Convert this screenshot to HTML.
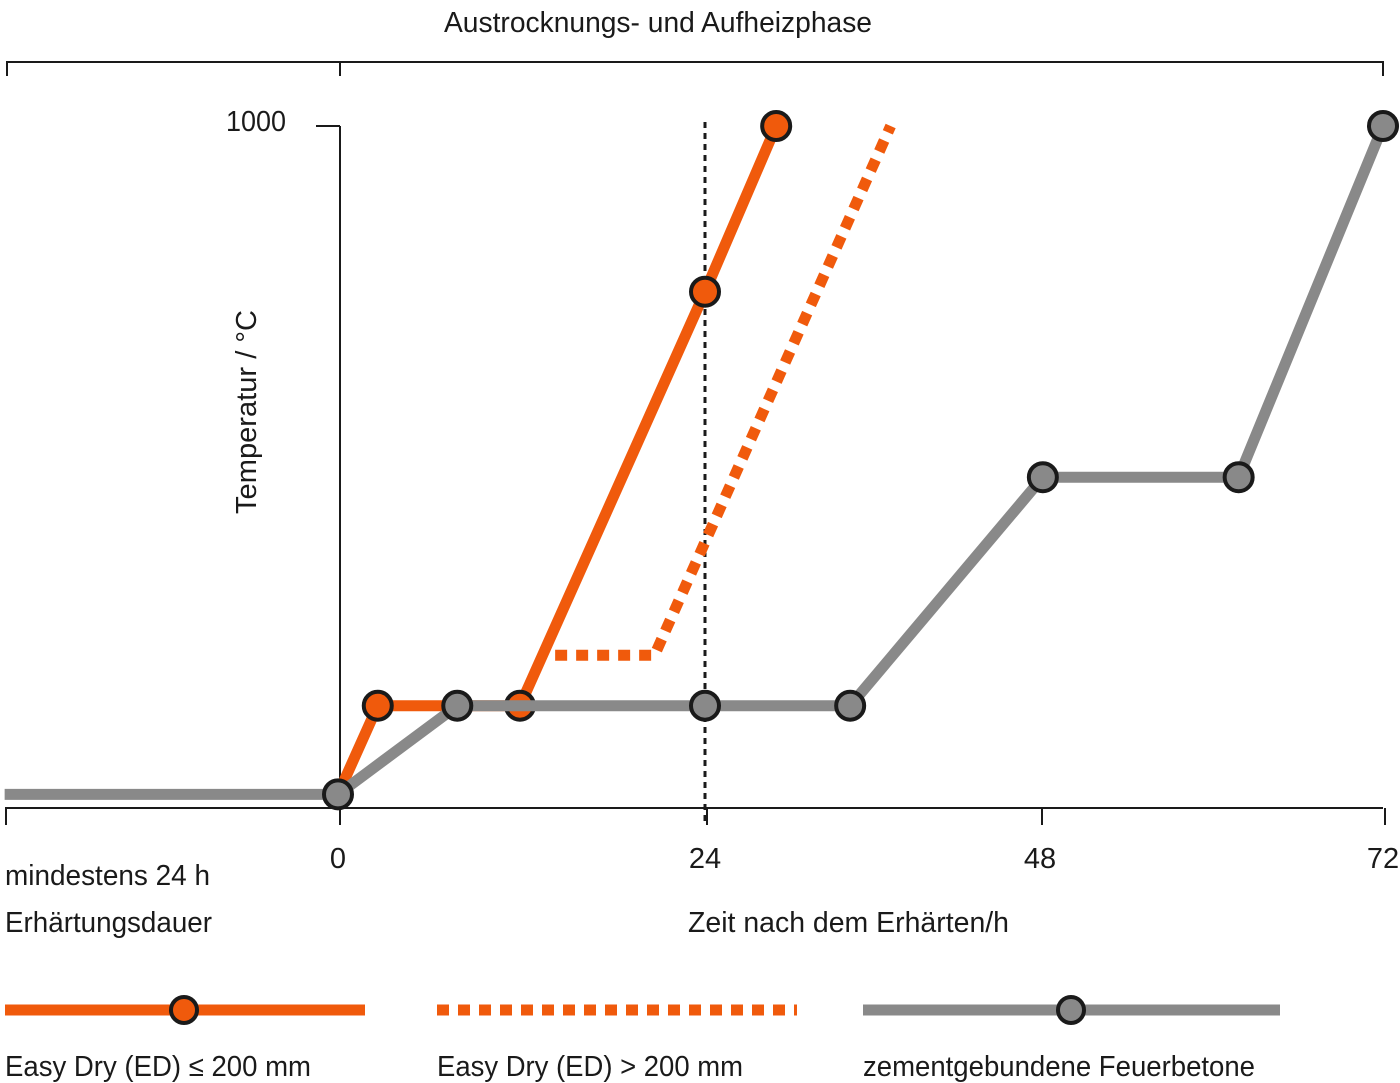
<!DOCTYPE html>
<html><head><meta charset="utf-8"><style>
html,body{margin:0;padding:0;background:#fff;}
svg{display:block;}
text{font-family:"Liberation Sans",sans-serif;fill:#1a1a1a;}
</style></head><body>
<svg id="chart" width="1400" height="1083" viewBox="0 0 1400 1083">
<g>
<line x1="7" y1="62" x2="1383" y2="62" stroke="#1a1a1a" stroke-width="2"/>
<line x1="7" y1="61" x2="7" y2="76" stroke="#1a1a1a" stroke-width="2"/>
<line x1="340" y1="61" x2="340" y2="76" stroke="#1a1a1a" stroke-width="2"/>
<line x1="1383" y1="61" x2="1383" y2="76" stroke="#1a1a1a" stroke-width="2"/>
<text x="658" y="32" font-size="29" text-anchor="middle" textLength="428" lengthAdjust="spacingAndGlyphs">Austrocknungs- und Aufheizphase</text>
</g>
<g>
<line x1="340" y1="126" x2="340" y2="808" stroke="#1a1a1a" stroke-width="2"/>
<line x1="316" y1="126" x2="340" y2="126" stroke="#1a1a1a" stroke-width="2"/>
<text x="286" y="131" font-size="29" text-anchor="end" textLength="60" lengthAdjust="spacingAndGlyphs">1000</text>
<text transform="translate(256,412) rotate(-90)" font-size="29" text-anchor="middle" textLength="204" lengthAdjust="spacingAndGlyphs">Temperatur  / °C</text>
</g>
<g id="xaxis">
<line x1="5" y1="808" x2="1383" y2="808" stroke="#1a1a1a" stroke-width="2"/>
<line x1="6" y1="808" x2="6" y2="825" stroke="#1a1a1a" stroke-width="2"/>
</g>
<text x="5" y="885" font-size="29" textLength="205" lengthAdjust="spacingAndGlyphs">mindestens 24 h</text>
<text x="5" y="932" font-size="29" textLength="207" lengthAdjust="spacingAndGlyphs">Erhärtungsdauer</text>
<text x="688" y="932" font-size="29" textLength="321" lengthAdjust="spacingAndGlyphs">Zeit nach dem Erhärten/h</text>
<line x1="705" y1="122" x2="705" y2="825" stroke="#1a1a1a" stroke-width="3" stroke-dasharray="6,5"/>
<g id="series"></g>
<g>
<g>
<line x1="5" y1="1010" x2="365" y2="1010" stroke="#f05a0c" stroke-width="11"/>
<circle cx="184" cy="1010" r="13" fill="#f05a0c" stroke="#1a1a1a" stroke-width="4"/>
<text x="5" y="1076" font-size="29" textLength="306" lengthAdjust="spacingAndGlyphs">Easy Dry (ED) ≤ 200 mm</text>
</g>
<g>
<line x1="437" y1="1010" x2="797" y2="1010" stroke="#f05a0c" stroke-width="11" stroke-dasharray="12,9"/>
<text x="437" y="1076" font-size="29" textLength="306" lengthAdjust="spacingAndGlyphs">Easy Dry (ED) &gt; 200 mm</text>
</g>
<g>
<line x1="863" y1="1010" x2="1280" y2="1010" stroke="#898989" stroke-width="11"/>
<circle cx="1071" cy="1010" r="13" fill="#898989" stroke="#1a1a1a" stroke-width="4"/>
<text x="863" y="1076" font-size="29" textLength="392" lengthAdjust="spacingAndGlyphs">zementgebundene Feuerbetone</text>
</g>
</g>
</svg>
<script>
const xTicks = [0, 24, 48, 72];
const xTickLabels = ["0", "24", "48", "72"];
const edSmallHours = [0, 2.6, 11.9, 24, 29.1];
const edSmallTemps = [20, 150, 150, 757, 1000];
const edSmallMarkers = [false, true, true, true, true];
const edLargeHours = [14.2, 20.7, 37.3];
const edLargeTemps = [224, 224, 1000];
const cementHours = [-21.8, 0, 7.8, 24, 34.4, 48.2, 61.9, 72];
const cementTemps = [20, 20, 150, 150, 150, 485, 485, 1000];
const cementMarkers = [false, true, true, true, true, true, true, true];

const NS = "http://www.w3.org/2000/svg";
const anchorPx = [338, 705, 1040, 1383];
function x(h) {
  let i = 0;
  if (h >= xTicks[xTicks.length - 1]) i = xTicks.length - 2;
  else { while (i < xTicks.length - 2 && h > xTicks[i + 1]) i++; }
  if (h < xTicks[0]) i = 0;
  const t = (h - xTicks[i]) / (xTicks[i + 1] - xTicks[i]);
  return anchorPx[i] + t * (anchorPx[i + 1] - anchorPx[i]);
}
function y(v) { return 808 - v * 0.682; }

const axis = document.getElementById('xaxis');
xTicks.forEach((t, i) => {
  const l = document.createElementNS(NS, 'line');
  l.setAttribute('x1', x(t) + 2); l.setAttribute('x2', x(t) + 2);
  l.setAttribute('y1', 808); l.setAttribute('y2', 825);
  l.setAttribute('stroke', '#1a1a1a'); l.setAttribute('stroke-width', 2);
  
  
  axis.appendChild(l);
  const tx = document.createElementNS(NS, 'text');
  tx.setAttribute('x', x(t)); tx.setAttribute('y', 868);
  tx.setAttribute('font-size', 29); tx.setAttribute('text-anchor', 'middle');
  tx.textContent = xTickLabels[i];
  
  
  axis.appendChild(tx);
});

const g = document.getElementById('series');
function line(hours, temps, color, dash, name) {
  const p = document.createElementNS(NS, 'polyline');
  p.setAttribute('points', hours.map((h, i) => x(h) + ',' + y(temps[i])).join(' '));
  p.setAttribute('fill', 'none'); p.setAttribute('stroke', color);
  p.setAttribute('stroke-width', 11); p.setAttribute('stroke-linejoin', 'miter');
  if (dash) p.setAttribute('stroke-dasharray', dash);
  
  
  g.appendChild(p);
}
function markers(hours, temps, flags, color, name) {
  hours.forEach((h, i) => {
    if (!flags[i]) return;
    const c = document.createElementNS(NS, 'circle');
    c.setAttribute('cx', x(h)); c.setAttribute('cy', y(temps[i]));
    c.setAttribute('r', 14); c.setAttribute('fill', color);
    c.setAttribute('stroke', '#1a1a1a'); c.setAttribute('stroke-width', 4);
    
    
    g.appendChild(c);
  });
}
line(edSmallHours, edSmallTemps, '#f05a0c', null, 'ed-small-line');
line(edLargeHours, edLargeTemps, '#f05a0c', '12,9', 'ed-large-line');
markers(edSmallHours, edSmallTemps, edSmallMarkers, '#f05a0c', 'ed-small-point');
line(cementHours, cementTemps, '#898989', null, 'cement-line');
markers(cementHours, cementTemps, cementMarkers, '#898989', 'cement-point');
</script>
</body></html>
